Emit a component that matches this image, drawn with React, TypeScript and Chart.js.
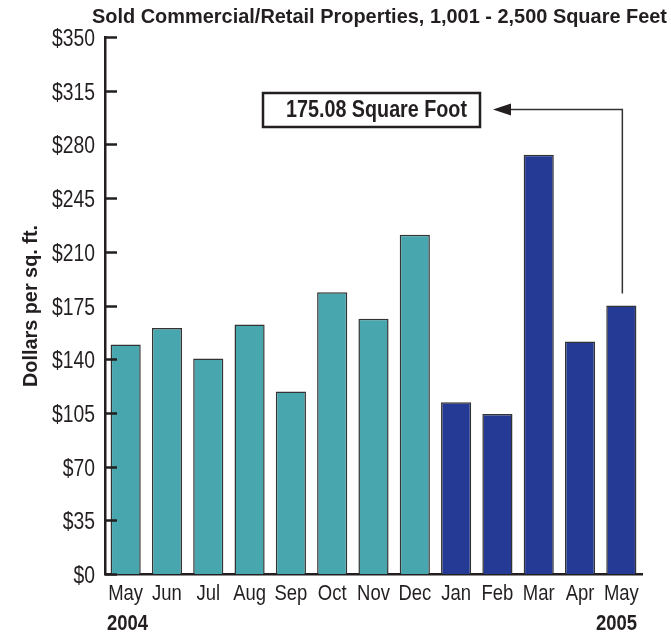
import React, { useEffect, useRef } from "react";
import { Chart, registerables } from "chart.js";

Chart.register(...registerables);

const months = ["May", "Jun", "Jul", "Aug", "Sep", "Oct", "Nov", "Dec", "Jan", "Feb", "Mar", "Apr", "May"];
const years = ["2004", "2004", "2004", "2004", "2004", "2004", "2004", "2004", "2005", "2005", "2005", "2005", "2005"];
const values = [149.5, 160.4, 140.4, 162.6, 118.9, 183.7, 166.3, 221.1, 112.0, 104.3, 273.2, 151.5, 175.08];
const yTicks = [0, 35, 70, 105, 140, 175, 210, 245, 280, 315, 350];
const title = "Sold Commercial/Retail Properties, 1,001 - 2,500 Square Feet";
const yTitle = "Dollars per sq. ft.";
const calloutText = "175.08 Square Foot";
const yearLabels = ["2004", "2005"];

const TEAL = "#48a6ae";
const BLUE = "#253a95";
const INK = "#231f20";
const FONT = "'Liberation Sans', Arial, sans-serif";
const SX = 0.84;

function condensed(ctx: any, text: string, x: number, y: number, align: string, font: string, maxWidth?: number) {
  ctx.save();
  ctx.font = font;
  ctx.textAlign = align;
  ctx.textBaseline = "alphabetic";
  ctx.translate(x, y);
  if (maxWidth) {
    ctx.fillText(text, 0, 0, maxWidth);
  } else {
    ctx.scale(SX, 1);
    ctx.fillText(text, 0, 0);
  }
  ctx.restore();
}

const decorPlugin = {
  id: "decor",
  afterDraw(chart: any) {
    const { ctx, chartArea, scales } = chart;
    const x = scales.x;
    const y = scales.y;
    ctx.save();
    ctx.fillStyle = INK;
    // inward tick marks + y labels
    ctx.strokeStyle = INK;
    ctx.lineWidth = 2.5;
    y.ticks.forEach((t: any) => {
      const py = Math.round(y.getPixelForValue(t.value)) + 0.5;
      ctx.beginPath();
      ctx.moveTo(chartArea.left, py);
      ctx.lineTo(chartArea.left + 12, py);
      ctx.stroke();
      condensed(ctx, "$" + t.value, 95, py + 8, "right", `23px ${FONT}`);
    });
    // x labels
    months.forEach((m, i) => {
      condensed(ctx, m, x.getPixelForValue(i), 600, "center", `22px ${FONT}`);
    });
    // title
    condensed(ctx, title, 667, 23, "right", `bold 21px ${FONT}`, 575);
    // y title
    ctx.save();
    ctx.translate(37, 306);
    ctx.rotate(-Math.PI / 2);
    condensed(ctx, yTitle, 0, 0, "center", `bold 20px ${FONT}`, 162);
    ctx.restore();
    // year labels
    condensed(ctx, yearLabels[0], 107, 630, "left", `bold 22px ${FONT}`);
    condensed(ctx, yearLabels[1], 637, 630, "right", `bold 22px ${FONT}`);
    // callout box
    const last = values.length - 1;
    const bx = x.getPixelForValue(last);
    const barTop = y.getPixelForValue(values[last]);
    const ay = 109.5;
    ctx.lineWidth = 2.5;
    ctx.strokeStyle = INK;
    ctx.strokeRect(263, 93, 217, 34);
    condensed(ctx, calloutText, 376.5, 117, "center", `bold 23px ${FONT}`, 181);
    // arrow
    ctx.lineWidth = 1.5;
    ctx.strokeStyle = "#333";
    ctx.beginPath();
    ctx.moveTo(bx + 1, barTop - 12);
    ctx.lineTo(bx + 1, ay);
    ctx.lineTo(508, ay);
    ctx.stroke();
    ctx.beginPath();
    ctx.moveTo(493, ay);
    ctx.lineTo(511, ay - 6);
    ctx.lineTo(511, ay + 6);
    ctx.closePath();
    ctx.fill();
    ctx.restore();
  },
};

export default function App() {
  const ref = useRef<HTMLCanvasElement>(null);
  useEffect(() => {
    if (!ref.current) return;
    const chart = new Chart(ref.current, {
      type: "bar",
      data: {
        labels: months,
        datasets: [
          {
            data: values,
            backgroundColor: years.map((yr) => (yr === "2004" ? TEAL : BLUE)),
            borderColor: "#333",
            borderWidth: 1.5,
            barPercentage: 0.73,
            categoryPercentage: 1,
          },
        ],
      },
      options: {
        animation: false,
        responsive: false,
        devicePixelRatio: 1,
        layout: { padding: { top: 37, left: 0, right: 29, bottom: 0 } },
        plugins: { legend: { display: false }, tooltip: { enabled: false }, title: { display: false } },
        scales: {
          x: {
            grid: { display: false, drawTicks: false },
            border: { display: true, color: INK, width: 2.5 },
            ticks: { display: false, autoSkip: false },
            afterFit: (s: any) => {
              s.height = 60;
            },
          },
          y: {
            min: 0,
            max: 350,
            grid: { display: false, drawTicks: false },
            border: { display: true, color: INK, width: 2.5 },
            afterBuildTicks: (s: any) => {
              s.ticks = yTicks.map((v) => ({ value: v }));
            },
            ticks: { display: false },
            afterFit: (s: any) => {
              s.width = 105;
            },
          },
        },
      },
      plugins: [decorPlugin],
    });
    return () => chart.destroy();
  }, []);
  return (
    <div style={{ position: "fixed", left: 0, top: 0, width: 671, height: 634, background: "#fff" }}>
      <canvas ref={ref} width={671} height={634} />
    </div>
  );
}
